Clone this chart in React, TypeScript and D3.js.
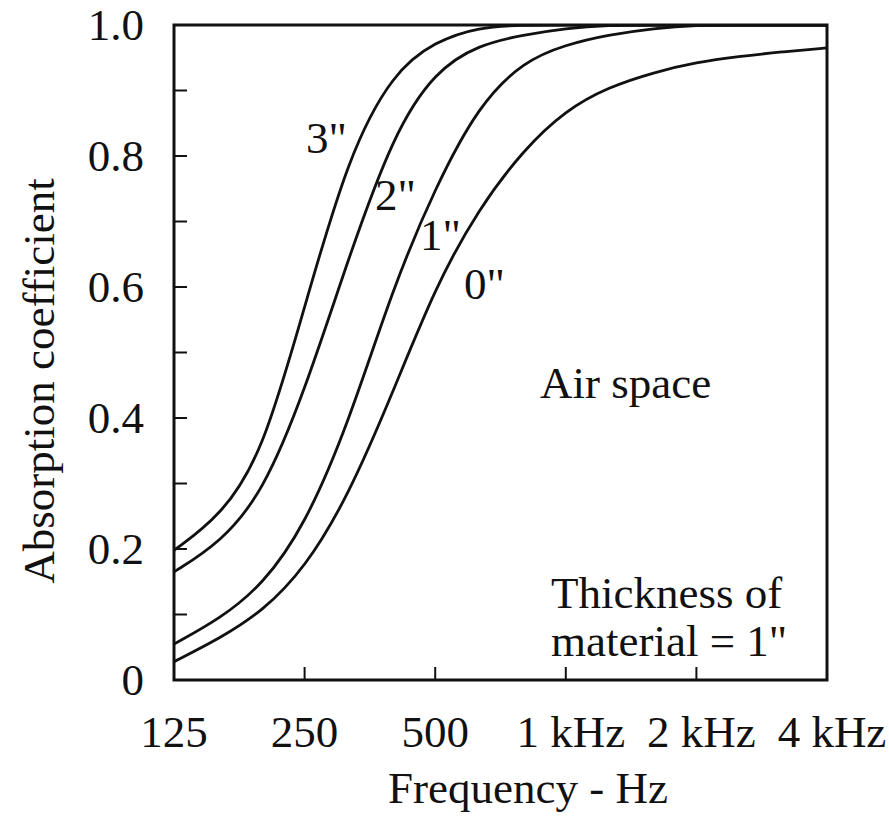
import React from "react";
import * as d3 from "d3";

// frequency points (Hz), 1/3 octave
const freqs = [125, 160, 200, 250, 315, 400, 500, 630, 800, 1000, 1250, 1600, 2000, 2500, 3150, 4000];

// absorption coefficient for each air space depth
const air0 = [0.028, 0.064, 0.105, 0.17, 0.28, 0.44, 0.6, 0.72, 0.81, 0.87, 0.905, 0.928, 0.943, 0.952, 0.959, 0.965];
const air1 = [0.055, 0.094, 0.145, 0.235, 0.39, 0.6, 0.752, 0.878, 0.945, 0.97, 0.985, 0.995, 1, 1, 1, 1];
const air2 = [0.165, 0.21, 0.285, 0.44, 0.643, 0.833, 0.93, 0.97, 0.985, 0.995, 1, 1, 1, 1, 1, 1];
const air3 = [0.198, 0.25, 0.345, 0.57, 0.8, 0.928, 0.975, 0.997, 1, 1, 1, 1, 1, 1, 1, 1];

const seriesNames = ['0"', '1"', '2"', '3"'];

const xTickValues = [125, 250, 500, 1000, 2000, 4000];
const xTickLabels = ["125", "250", "500", "1 kHz", "2 kHz", "4 kHz"];
const yLabelValues = [0, 0.2, 0.4, 0.6, 0.8, 1.0];
const yLabelTexts = ["0", "0.2", "0.4", "0.6", "0.8", "1.0"];
const yMinorTicks = [0.1, 0.2, 0.3, 0.4, 0.5, 0.6, 0.7, 0.8, 0.9];

const W = 889;
const H = 816;
const FONT = "'Liberation Serif', 'Times New Roman', serif";
const INK = "#111";

export default function App() {
  const left = 174, right = 827, top = 25, bottom = 680;

  const x = d3.scaleLog().base(2).domain([125, 4000]).range([left, right]);
  const y = d3.scaleLinear().domain([0, 1]).range([bottom, top]);

  const line = d3
    .line<number>()
    .x((_, i) => x(freqs[i]))
    .y((d) => y(d))
    .curve(d3.curveBasis);

  const series = [air0, air1, air2, air3];

  // curve label spots (pixel layout)
  const labelPos = [
    { x: 464, y: 299 },
    { x: 420, y: 250 },
    { x: 375, y: 210 },
    { x: 306, y: 153 },
  ];

  return (
    <div style={{ position: "absolute", left: 0, top: 0, background: "#fff" }}>
      <svg width={W} height={H} style={{ display: "block" }} fontFamily={FONT}>
        <defs>
          <clipPath id="plot">
            <rect x={left} y={top} width={right - left} height={bottom - top} />
          </clipPath>
        </defs>
        <rect width={W} height={H} fill="#fff" />

        {/* curves */}
        <g clipPath="url(#plot)">
          {series.map((s, i) => (
            <path key={i} d={line(s) || ""} fill="none" stroke={INK} strokeWidth={2.8} />
          ))}
        </g>

        {/* frame */}
        <rect
          x={left}
          y={top}
          width={right - left}
          height={bottom - top}
          fill="none"
          stroke={INK}
          strokeWidth={3}
        />

        {/* y minor ticks, inward */}
        {yMinorTicks.map((v) => (
          <line key={v} x1={left} x2={left + 13} y1={y(v)} y2={y(v)} stroke={INK} strokeWidth={2} />
        ))}
        {/* x ticks, inward */}
        {xTickValues.slice(1, -1).map((f) => (
          <line key={f} x1={x(f)} x2={x(f)} y1={bottom} y2={bottom - 13} stroke={INK} strokeWidth={2} />
        ))}

        {/* y labels */}
        {yLabelValues.map((v, i) => (
          <text
            key={v}
            x={144}
            y={y(v)}
            textAnchor="end"
            dominantBaseline="central"
            fontSize={45}
            fill={INK}
          >
            {yLabelTexts[i]}
          </text>
        ))}

        {/* x labels */}
        {xTickValues.map((f, i) => (
          <text key={f} x={x(f) + (f >= 1000 ? 5 : 0)} y={747} textAnchor="middle" fontSize={45} fill={INK}>
            {xTickLabels[i]}
          </text>
        ))}

        {/* axis titles */}
        <text x={528} y={803} textAnchor="middle" fontSize={45} fill={INK}>
          Frequency - Hz
        </text>
        <text
          transform={`translate(54, 381) rotate(-90)`}
          textAnchor="middle"
          fontSize={45}
          fill={INK}
        >
          Absorption coefficient
        </text>

        {/* curve labels */}
        {seriesNames.map((n, i) => (
          <text key={n} x={labelPos[i].x} y={labelPos[i].y} fontSize={45} fill={INK}>
            {n}
          </text>
        ))}

        {/* annotations */}
        <text x={540} y={398} fontSize={45} fill={INK}>
          Air space
        </text>
        <text x={551} y={608} fontSize={45} fill={INK}>
          Thickness of
        </text>
        <text x={551} y={656} fontSize={45} fill={INK}>
          material = 1"
        </text>
      </svg>
    </div>
  );
}
